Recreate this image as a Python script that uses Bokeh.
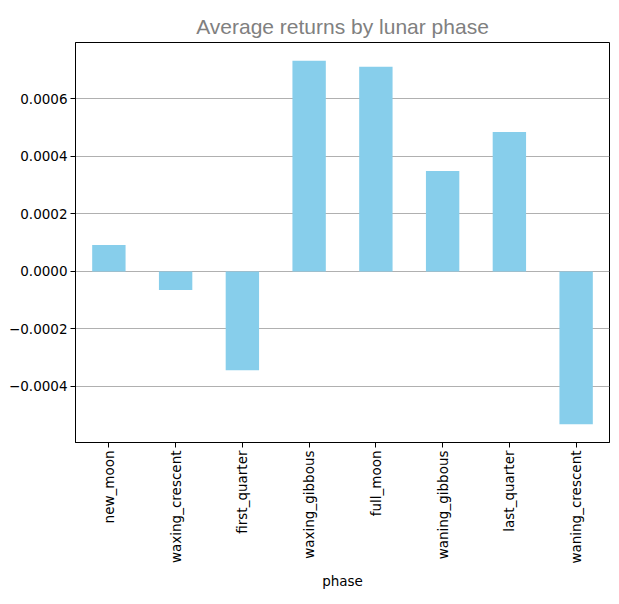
import math
from bokeh.plotting import figure
from bokeh.models import Range1d, FactorRange, FixedTicker, CustomJSTickFormatter, ColumnDataSource
from bokeh.embed import file_html
from bokeh.resources import INLINE

phases = ["new_moon", "waxing_crescent", "first_quarter", "waxing_gibbous",
          "full_moon", "waning_gibbous", "last_quarter", "waning_crescent"]
returns = [0.000092, -0.000065, -0.000344, 0.000733, 0.000712, 0.000349, 0.000485, -0.000532]
y_ticks = [-0.0004, -0.0002, 0.0, 0.0002, 0.0004, 0.0006]

span = max(returns) - min(returns)
ymin = min(returns) - 0.05 * span
ymax = max(returns) + 0.05 * span

src = ColumnDataSource(dict(phase=phases, ret=returns))

p = figure(width=611, height=592, x_range=FactorRange(*phases),
           y_range=Range1d(ymin, ymax), output_backend="svg",
           toolbar_location=None, title="Average returns by lunar phase",
           min_border_left=75, min_border_right=2, min_border_top=42, min_border_bottom=150)

p.vbar(x="phase", top="ret", width=0.5, source=src, color="#87CEEB", line_color=None)

p.title.align = "center"
p.title.text_color = "#808080"
p.title.text_font = "Liberation Sans"
p.title.text_font_size = "21px"
p.title.text_font_style = "normal"
p.title.offset = 0
p.title.standoff = 10

p.outline_line_color = "black"
p.outline_line_width = 1
p.outline_line_alpha = 1

p.xgrid.grid_line_color = None
p.ygrid.grid_line_color = "#b0b0b0"
p.ygrid.grid_line_width = 1
p.ygrid.ticker = FixedTicker(ticks=y_ticks)

p.yaxis.ticker = FixedTicker(ticks=y_ticks, minor_ticks=[])
p.yaxis.formatter = CustomJSTickFormatter(code="return tick.toFixed(4).replace('-', '\u2212');")

for ax in (p.xaxis[0], p.yaxis[0]):
    ax.axis_line_color = "black"
    ax.major_tick_line_color = "black"
    ax.major_tick_out = 5
    ax.major_tick_in = 0
    ax.minor_tick_line_color = None
    ax.major_label_text_font = "DejaVu Sans"
    ax.major_label_text_font_size = "13.5px"
    ax.major_label_text_color = "black"
    ax.major_label_standoff = 3

p.xaxis.major_label_orientation = math.pi / 2
p.xaxis.axis_label = "phase"
p.xaxis.axis_label_text_font = "DejaVu Sans"
p.xaxis.axis_label_text_font_size = "13.5px"
p.xaxis.axis_label_text_font_style = "normal"
p.xaxis.axis_label_text_color = "black"
p.xaxis.axis_label_standoff = 6

open("out.html", "w").write(file_html(p, INLINE))
